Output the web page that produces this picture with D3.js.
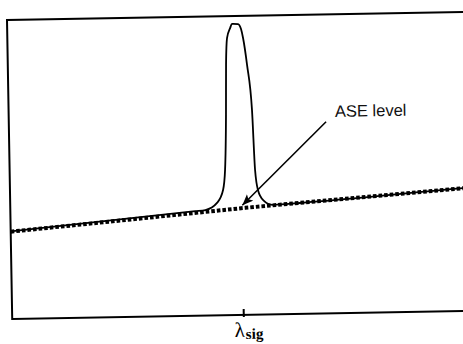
<!DOCTYPE html>
<html>
<head>
<meta charset="utf-8">
<script src="https://cdn.jsdelivr.net/npm/d3@7"></script>
<style>
  html, body { margin: 0; padding: 0; background: #fff; }
  svg { display: block; }
</style>
</head>
<body>
<div id="chart"></div>
<script>
// signal spectrum: wavelength (nm) vs. power (arbitrary units, 0-100)
const spectrumWl = [1520.0, 1543.6, 1544.9, 1546.4, 1547.2, 1547.5, 1547.74, 1547.86, 1548.05, 1548.46,
    1548.71, 1549.48, 1549.85, 1550.09, 1550.54, 1551.07, 1551.33, 1551.66, 1552.29, 1553.55, 1557.0, 1577.8, 1580.0];
const spectrumPow = [29.3, 35.0, 35.3, 37.6, 41.9, 48.6, 67.0, 83.7, 92.7, 96.0,
    97.4, 97.3, 95.6, 92.6, 83.6, 68.5, 48.4, 41.6, 38.3, 36.6, 37.1, 41.1, 41.5];

// ASE floor (dotted)
const aseWl = [1520, 1550, 1580];
const asePow = [29.2, 35.8, 41.5];

const lambdaSig = 1549.5;
const tickLabel = "λ";
const tickSub = "sig";
const annotationText = "ASE level";

const width = 463;
const height = 344;
const plotW = 470; // frame runs off the right side of the page
const plotH = 299;

const x = d3.scaleLinear().domain([1520, 1580]).range([0, plotW]);
const y = d3.scaleLinear().domain([0, 100]).range([plotH, 0]);
const aseAt = d3.scaleLinear().domain(aseWl).range(asePow);

const svg = d3.create("svg")
    .attr("width", width)
    .attr("height", height)
    .attr("viewBox", [0, 0, width, height])
    .style("background", "#fff");

// the scanned figure is tilted by about a degree
const g = svg.append("g")
    .attr("transform", "translate(7,20) rotate(-1)");

g.append("rect")
    .attr("width", plotW)
    .attr("height", plotH)
    .attr("fill", "none")
    .attr("stroke", "#000")
    .attr("stroke-width", 2);

// wavelength axis: one tick at the signal
const axis = g.append("g")
    .attr("transform", `translate(0,${plotH})`)
    .call(d3.axisBottom(x).tickValues([lambdaSig]).tickSizeInner(-6).tickSizeOuter(0));
axis.select(".domain").remove();
axis.selectAll(".tick line")
    .attr("y1", 2)
    .attr("y2", -6)
    .attr("stroke", "#000")
    .attr("stroke-width", 2);
const label = axis.select(".tick text")
    .text(null)
    .attr("x", -9.5)
    .attr("y", 22)
    .attr("dy", null)
    .attr("text-anchor", "start")
    .attr("fill", "#000")
    .attr("font-family", "'Liberation Serif', 'DejaVu Serif', serif");
label.append("tspan")
    .attr("font-size", 21)
    .text(tickLabel);
label.append("tspan")
    .attr("font-size", 15)
    .attr("font-weight", "bold")
    .attr("dx", 1)
    .attr("dy", 2)
    .text(tickSub);

const pts = d3.zip(spectrumWl, spectrumPow);
const asePts = d3.zip(aseWl, asePow);

g.append("path")
    .datum(pts)
    .attr("fill", "none")
    .attr("stroke", "#000")
    .attr("stroke-width", 1.8)
    .attr("stroke-linejoin", "round")
    .attr("d", d3.line().curve(d3.curveMonotoneX)
        .x(d => x(d[0]))
        .y(d => y(d[1])));

g.append("path")
    .datum(asePts)
    .attr("fill", "none")
    .attr("stroke", "#000")
    .attr("stroke-width", 4)
    .attr("stroke-dasharray", "3.6,2")
    .attr("d", d3.line()
        .x(d => x(d[0]))
        .y(d => y(d[1])));

// arrow pointing at the ASE floor under the signal
svg.append("defs").append("marker")
    .attr("id", "head")
    .attr("markerUnits", "userSpaceOnUse")
    .attr("markerWidth", 12)
    .attr("markerHeight", 10)
    .attr("refX", 11)
    .attr("refY", 4.5)
    .attr("orient", "auto")
    .append("path")
    .attr("d", "M0,0L11,4.5L0,9L2.5,4.5z")
    .attr("fill", "#000");

const tail = [x(1560.5), y(64.1)];
const tip = [x(lambdaSig) + 1, y(aseAt(lambdaSig)) - 3];

g.append("line")
    .attr("x1", tail[0])
    .attr("y1", tail[1])
    .attr("x2", tip[0])
    .attr("y2", tip[1])
    .attr("stroke", "#000")
    .attr("stroke-width", 1.6)
    .attr("marker-end", "url(#head)");

g.append("text")
    .attr("x", tail[0] + 9)
    .attr("y", tail[1] - 4.7)
    .attr("font-family", "'Liberation Sans', Arial, sans-serif")
    .attr("font-size", 16.5)
    .attr("fill", "#111")
    .text(annotationText);

document.getElementById("chart").append(svg.node());
</script>
</body>
</html>
